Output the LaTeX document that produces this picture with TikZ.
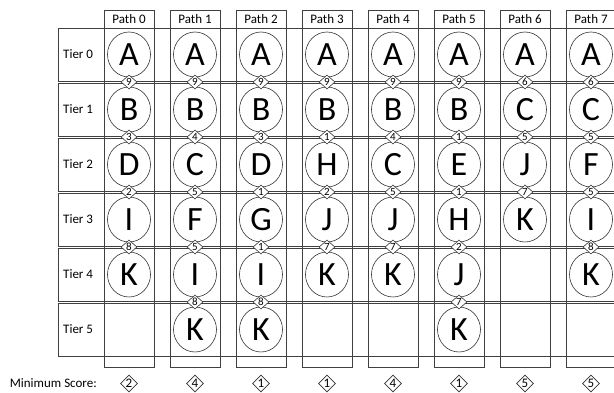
\documentclass[tikz,border=0pt]{standalone}
\usepackage{fontspec}
\setmainfont{Carlito}
\usetikzlibrary{shapes.geometric}

\tikzset{
    grid/.style={draw=black!75, line width=0.8pt},
    tnode/.style={draw=black!80, ellipse, fill=white, line width=0.6pt, minimum width=43pt, minimum height=45pt, inner sep=0pt, font=\fontsize{34}{34}\selectfont},
    score/.style={draw=black!80, diamond, fill=white, line width=0.6pt, minimum width=16pt, minimum height=14pt, inner sep=0pt, font=\fontsize{11}{11}\selectfont},
    minscore/.style={score, minimum width=17pt, minimum height=17pt, font=\fontsize{13}{13}\selectfont},
    lbl/.style={inner sep=0pt, font=\fontsize{13}{15}\selectfont},
  }

\begin{document}
\begin{tikzpicture}[x=1pt, y=-1pt]
        \useasboundingbox (0,0) rectangle (614,393);
        \clip (0,0) rectangle (614,393);
        % tier rows
        \foreach \t in {0,...,5} {
            \draw[grid] (58,28+55*\t) rectangle (640,81+55*\t);
            \node[lbl, anchor=west] (tier\t) at (63,54.5+55*\t) {Tier \t};
        }
        \node[lbl, anchor=east] (minlbl) at (97,383.5) {Minimum Score:};
        % path columns
        \foreach \p/\seq/\sc/\mn in {
            0/{A,B,D,I,K}/{9,3,2,8}/2,
            1/{A,B,C,F,I,K}/{9,4,5,5,8}/4,
            2/{A,B,D,G,I,K}/{9,3,1,1,8}/1,
            3/{A,B,H,J,K}/{9,1,2,7}/1,
            4/{A,B,C,J,K}/{9,4,5,7}/4,
            5/{A,B,E,H,J,K}/{9,1,1,2,7}/1,
            6/{A,C,J,K}/{6,5,7}/5,
            7/{A,C,F,I,K}/{6,5,5,8}/5} {
            \pgfmathsetmacro\cx{129+66*\p}
            \draw[grid] (\cx-25,10) rectangle (\cx+25,367);
            \node[lbl] (head\p) at (\cx,19) {Path \p};
            \foreach \l [count=\t from 0] in \seq
                \node[tnode] (n\p-\t) at (\cx,54.5+55*\t) {\l};
            \foreach \s [count=\t from 0] in \sc
                \node[score] (s\p-\t) at (\cx,82+55*\t) {\s};
            \node[minscore] (min\p) at (\cx,383.5) {\mn};
        }
    \end{tikzpicture}
\end{document}
